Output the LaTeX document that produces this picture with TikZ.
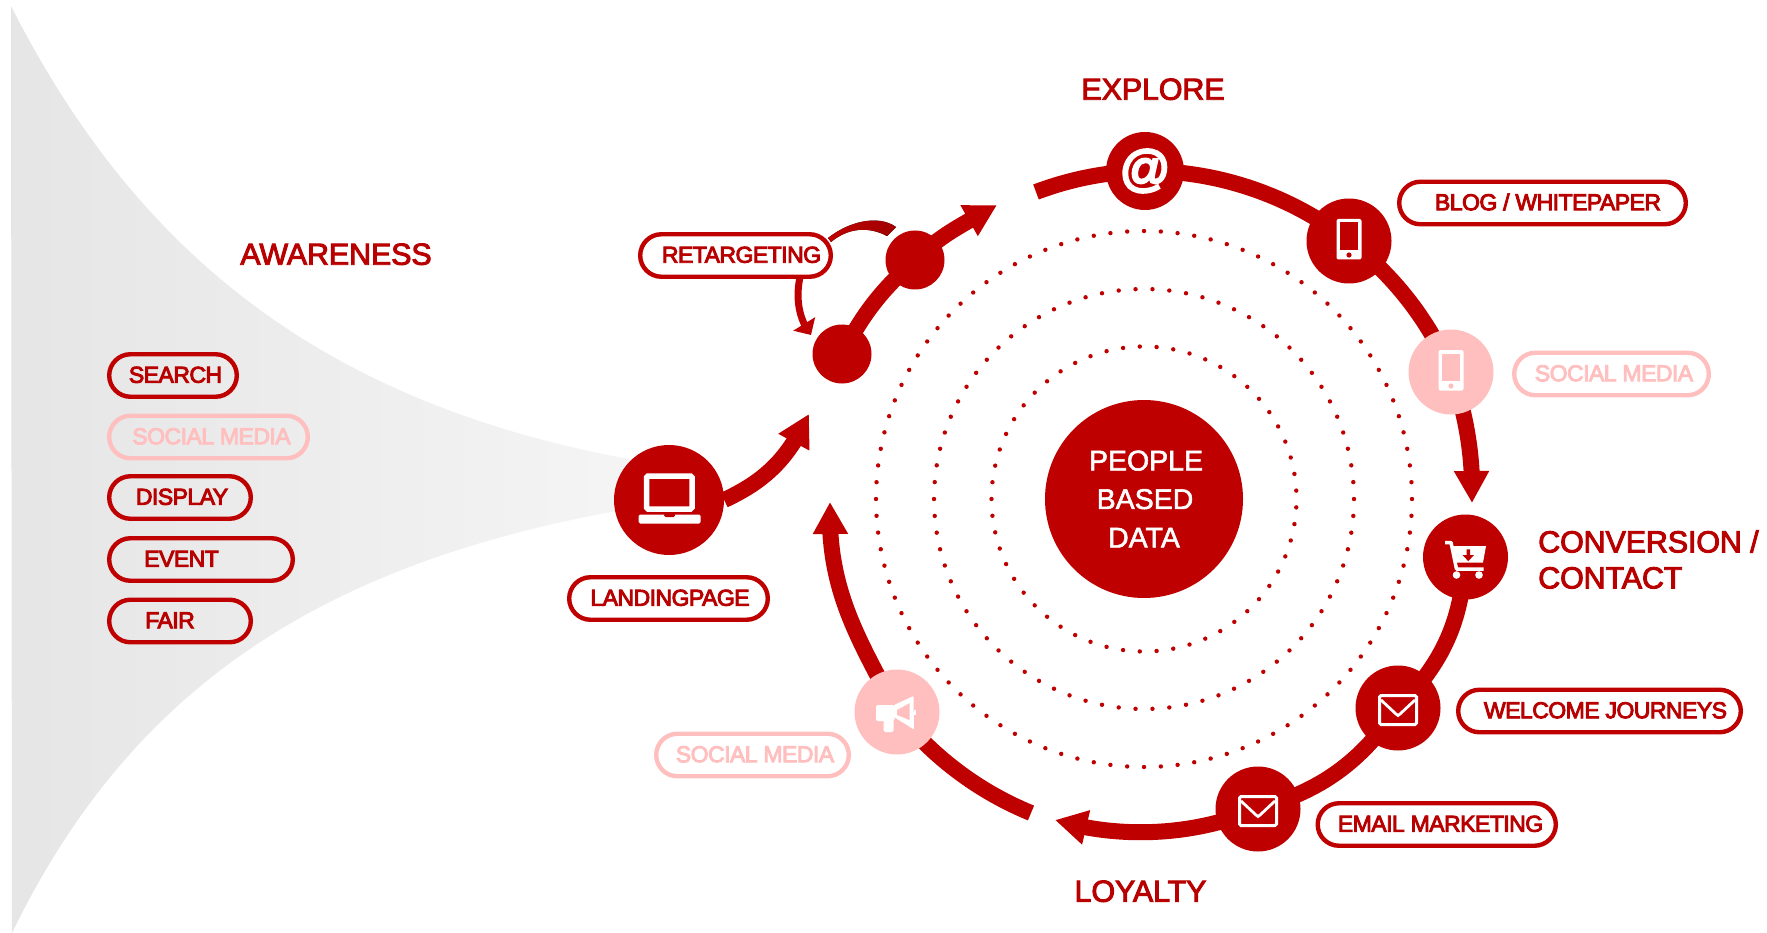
\documentclass[tikz,border=0pt]{standalone}
\usepackage{fontspec}
\usetikzlibrary{shapes.misc,arrows.meta,backgrounds,bending}
\setmainfont{Liberation Sans}
\newfontfamily\pillfont[FakeBold=4,LetterSpace=-2.3]{Liberation Sans}
\newfontfamily\headfont[FakeBold=3,LetterSpace=-0.5]{Liberation Sans}
\newfontfamily\datafont[FakeBold=2]{Liberation Sans}
\newfontfamily\atfont[FakeBold=5,BoldFont={Liberation Sans}]{Liberation Sans}
\definecolor{mainred}{HTML}{BF0000}
\definecolor{txtred}{HTML}{B80000}
\definecolor{softred}{HTML}{FFBFBF}
\definecolor{darkred}{HTML}{A00000}
\tikzset{
  x=1pt,y=-1pt,
  pill/.style={rounded rectangle,draw=mainred,line width=4.4pt,minimum height=42.5pt,inner sep=0pt,
    font=\pillfont\fontsize{23}{26}\selectfont,text=txtred,text height=14.5pt,text depth=0pt},
  softpill/.style={pill,draw=softred,text=softred},
  disc/.style={circle,fill=mainred,minimum size=85pt,inner sep=0pt,text=white},
  softdisc/.style={disc,fill=softred},
  dotdisc/.style={circle,fill=mainred,minimum size=59pt,inner sep=0pt},
  heading/.style={font=\headfont\fontsize{30.5}{36}\selectfont,text=txtred,inner sep=0pt,text height=21.5pt,text depth=0pt},
  ringline/.style={draw=mainred,line width=16pt,line cap=butt},
  arc/.style={bend left=#1,looseness=.87},
  wide/.style={bend left=#1,looseness=1},
  bighead/.style={-{Triangle[length=32pt,width=33pt,flex]}},
  smallhead/.style={-{Triangle[length=13pt,width=25pt,flex]}},
}
\newcommand{\iconphone}[2]{%
  \begin{scope}[shift={(#1)}]
    \fill[white,rounded corners=2pt] (-12.5,-22) rectangle (12.5,18.5);
    \fill[#2] (-9,-18.5) rectangle (9,9);
    \fill[#2] (0,14) circle (2.6);
  \end{scope}}
\newcommand{\iconmail}[1]{%
  \begin{scope}[shift={(#1)}]
    \draw[white,line width=3pt,rounded corners=1.5pt] (-18.5,-12.5) rectangle (18.5,16.5);
    \draw[white,line width=2.8pt] (-17,-8) -- (-2,6) -- (0,7.5) -- (2,6) -- (17,-8);
  \end{scope}}
\begin{document}
\begin{tikzpicture}
\useasboundingbox (0,0) rectangle (1767,933);

% centre
\node[circle,fill=mainred,minimum size=198pt,inner sep=0pt,text=white,align=center,
      font=\datafont\fontsize{28.5}{38.5}\selectfont] (data) at (1144,499) {\hspace*{4pt}PEOPLE\\\hspace*{2pt}BASED\\DATA};

% dotted rings
\foreach \rad/\n in {268/100,210/78,152.5/57}{
  \pgfmathsetmacro{\stepa}{360/\n}
  \pgfmathtruncatemacro{\last}{\n-1}
  \foreach \i in {0,...,\last}{
    \fill[mainred] ({1144+\rad*cos(180+\i*\stepa)},{499+\rad*sin(180+\i*\stepa)}) circle (2.2);
  }
}

% ring nodes
\node[disc,minimum size=78pt,font=\atfont\fontsize{50}{50}\selectfont] (at) at (1145,171) {@};
\node[disc] (phone) at (1349,241) {};
\node[softdisc] (softphone) at (1451,372) {};
\node[disc] (cart) at (1465.5,557) {};
\node[disc] (mailA) at (1398,708) {};
\node[disc] (mailB) at (1258,809) {};
\node[softdisc] (horn) at (897,712) {};
\node[disc,minimum size=110pt] (laptop) at (669,500) {};
\node[dotdisc] (stepA) at (842,354) {};
\node[dotdisc] (stepB) at (915,260) {};

% free ends
\coordinate (ringstart) at (1036,192);
\coordinate (ringtip) at (1472,503);
\coordinate (lowtip) at (1055,820);
\coordinate (leftstart) at (1031,813);
\coordinate (lefttip) at (830,502);
\coordinate (steptip) at (997,205);
\coordinate (landtip) at (809,414);

% pills
\node[pill,minimum width=127.6pt] (search) at (173,375.5) {\hspace*{5pt}SEARCH};
\node[softpill,minimum width=198.6pt] (socialA) at (208.5,437) {\hspace*{6pt}SOCIAL MEDIA};
\node[pill,minimum width=141.6pt] (display) at (180,497.5) {\hspace*{4pt}DISPLAY};
\node[pill,minimum width=183.6pt] (event) at (201,559.5) {EVENT\hspace*{39pt}};
\node[pill,minimum width=141.6pt] (fair) at (180,621) {FAIR\hspace*{20pt}};
\node[pill,minimum width=190.6pt] (retarget) at (735.5,255.5) {\hspace*{12pt}RETARGETING};
\node[pill,minimum width=198.6pt] (landing) at (668.5,598.5) {\hspace*{3pt}LANDINGPAGE};
\node[softpill,minimum width=192.6pt] (socialC) at (752.5,755) {\hspace*{5pt}SOCIAL MEDIA};
\node[pill,minimum width=286.6pt] (blog) at (1542.5,203) {\hspace*{11pt}BLOG / WHITEPAPER};
\node[softpill,minimum width=194.6pt] (socialB) at (1611.5,374) {\hspace*{5pt}SOCIAL MEDIA};
\node[pill,minimum width=282.6pt] (welcome) at (1599.5,711) {\hspace*{12pt}WELCOME JOURNEYS};
\node[pill,minimum width=238.1pt] (email) at (1436.75,824.5) {\hspace*{7.5pt}EMAIL MARKETING};

% headings
\node[heading] (awareness) at (336,254) {AWARENESS};
\node[heading] (explore) at (1153,89) {EXPLORE};
\node[heading] (loyalty) at (1140.5,891) {LOYALTY};
\node[font=\headfont\fontsize{30.5}{36}\selectfont,text=txtred,inner sep=0pt,align=left,anchor=west] (conversion) at (1538,559.5) {CONVERSION /\\CONTACT};

\begin{scope}[on background layer]
  % funnel
  \path[left color=black!10,right color=black!4]
    (11,6) .. controls (135,250) and (320,405) .. (640,461)
    -- (640,507) .. controls (320,560) and (130,690) .. (12,933)
    -- cycle;
  % upper ring
  \draw[ringline] (ringstart) to[arc=9.75] (at.center);
  \draw[ringline] (at.center) to[arc=19.25] (phone.center);
  \draw[ringline] (phone.center) to[arc=14.5] (softphone.center);
  \draw[ringline,bighead] (softphone.center) to[arc=10.9] (ringtip);
  % lower ring
  \draw[ringline] (cart.center) to[wide=20.5] (mailA.center);
  \draw[ringline] (mailA.center) to[wide=19] (mailB.center);
  \draw[ringline,bighead] (mailB.center) to[arc=19.5] (lowtip);
  % left ring
  \draw[ringline] (leftstart) to[arc=14.7] (horn.center);
  \draw[ringline,bighead] (horn.center) to[out=118,in=-92,looseness=1] (lefttip);
  % retargeting path
  \draw[ringline] (stepA.center) to[bend left=10,looseness=1] (stepB.center);
  \draw[ringline,bighead] (stepB.center) to[out=44,in=-150,looseness=1] (steptip);
  % landing arrow
  \draw[ringline,bighead] (laptop.east) to[out=25,in=-115,looseness=1] (landtip);
\end{scope}

% retargeting side arrows
\begin{scope}[on background layer]
  \coordinate (sideA) at (828,238);
  \coordinate (sideB) at (896,227);
  \coordinate (sideC) at (887,236);
  \coordinate (sideD) at (831,242);
  \fill[left color=mainred,right color=darkred] (sideA) .. controls (848,222) and (878,214) .. (sideB)
     -- (sideC) .. controls (868,226) and (848,228) .. (sideD) -- cycle;
  \coordinate (sideE) at (800,277);
  \coordinate (sideF) at (811,335);
  \draw[draw=mainred,line width=7pt,smallhead] (sideE) to[out=-102,in=128,looseness=.9] (sideF);
\end{scope}

% laptop icon
\begin{scope}[shift={(laptop.center)}]
  \draw[white,line width=5.5pt,rounded corners=1.5pt] (-22.5,-24) rectangle (23,9);
  \fill[white,rounded corners=1.5pt] (-30.5,14.5) rectangle (31.5,23.5);
  \fill[mainred,rounded corners=1.5pt] (-5,13) rectangle (6,17);
\end{scope}

% phones
\iconphone{phone.center}{mainred}
\iconphone{softphone.center}{softred}

% cart icon
\begin{scope}[shift={(cart.center)}]
  \fill[white] (-14.5,-11) -- (20.5,-11) -- (17.5,5.5) -- (-9.5,5.5) -- cycle;
  \draw[white,line width=3.5pt,line join=round] (-20.5,-14.5) -- (-14.5,-14.5) -- (-9,12) -- (18,12);
  \fill[white] (-9,18) circle (3.8) (13.5,18) circle (3.8);
  \fill[mainred] (1,-7.7) rectangle (4.6,-2) (-3,-2) -- (8.5,-2) -- (2.8,4.2) -- cycle;
\end{scope}

% mail icons
\iconmail{mailA.center}
\iconmail{mailB.center}

% horn icon
\begin{scope}[shift={(horn.center)}]
  \fill[white,rounded corners=2pt] (-21,-7) rectangle (-2.5,9);
  \fill[white,rounded corners=1.5pt] (-13.5,8) rectangle (-3.5,20);
  \fill[white,rounded corners=1pt] (-3,-7) -- (16.5,-16) -- (17,17.5) -- (-3,5) -- cycle;
  \fill[softred] (0,-2) -- (12.5,-8.7) -- (12.5,8) -- (0,3) -- cycle;
  \fill[white] (17,-2) rectangle (19,3);
\end{scope}
\end{tikzpicture}
\end{document}
